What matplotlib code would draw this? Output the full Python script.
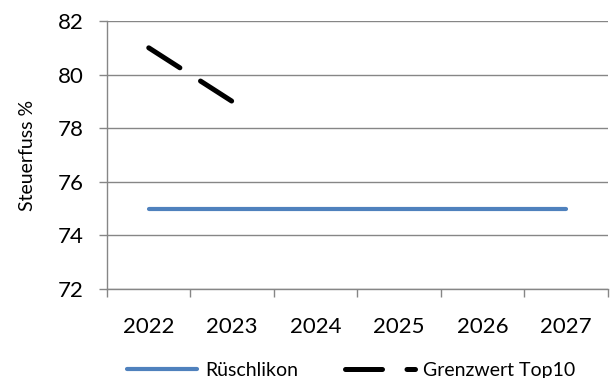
import matplotlib
matplotlib.use("Agg")
import matplotlib.pyplot as plt
import numpy as np

years = ["2022", "2023", "2024", "2025", "2026", "2027"]
rueschlikon = [75, 75, 75, 75, 75, 75]
grenzwert_years = ["2022", "2023"]
grenzwert = [81, 79]

plt.rcParams['font.family'] = ['Lato', 'DejaVu Sans']

fig = plt.figure(figsize=(6.14, 3.78), dpi=100)
ax = fig.add_axes([0.1743, 0.2354, 0.8157, 0.709])

x = np.arange(len(years))
gx = [years.index(y) for y in grenzwert_years]

ax.plot(x, rueschlikon, color='#4F81BD', lw=3.0, solid_capstyle='round', label='Rüschlikon')
ax.plot(gx, grenzwert, color='black', lw=3.6, dash_capstyle='round',
        linestyle=(0, (7.4, 4.9)), label='Grenzwert Top10')

ax.set_xlim(-0.5, len(years) - 0.5)
ax.set_ylim(72, 82)
ax.set_yticks(range(72, 83, 2))
ax.set_xticks(x)
ax.set_xticklabels(years)
ax.set_xticks(np.arange(-0.5, len(years)), minor=True)

ax.grid(axis='y', color='#868686', lw=1.0)
ax.set_axisbelow(True)
for s in ['top', 'right']:
    ax.spines[s].set_visible(False)
for s in ['left', 'bottom']:
    ax.spines[s].set_color('#868686')
    ax.spines[s].set_linewidth(1.0)

ax.tick_params(axis='x', which='major', length=0, pad=20, labelsize=16)
ax.tick_params(axis='x', which='minor', length=5.5, color='#868686', width=1.0)
ax.tick_params(axis='y', length=5.5, color='#868686', width=1.0, pad=11, labelsize=16)

ax.set_ylabel('Steuerfuss %', fontsize=14, labelpad=16)

leg = fig.legend(loc='lower center', bbox_to_anchor=(0.572, -0.048), ncol=2, frameon=False,
                 fontsize=14, handlelength=3.6, columnspacing=2.4, handletextpad=0.4)

fig.savefig('out.png', dpi=100)
